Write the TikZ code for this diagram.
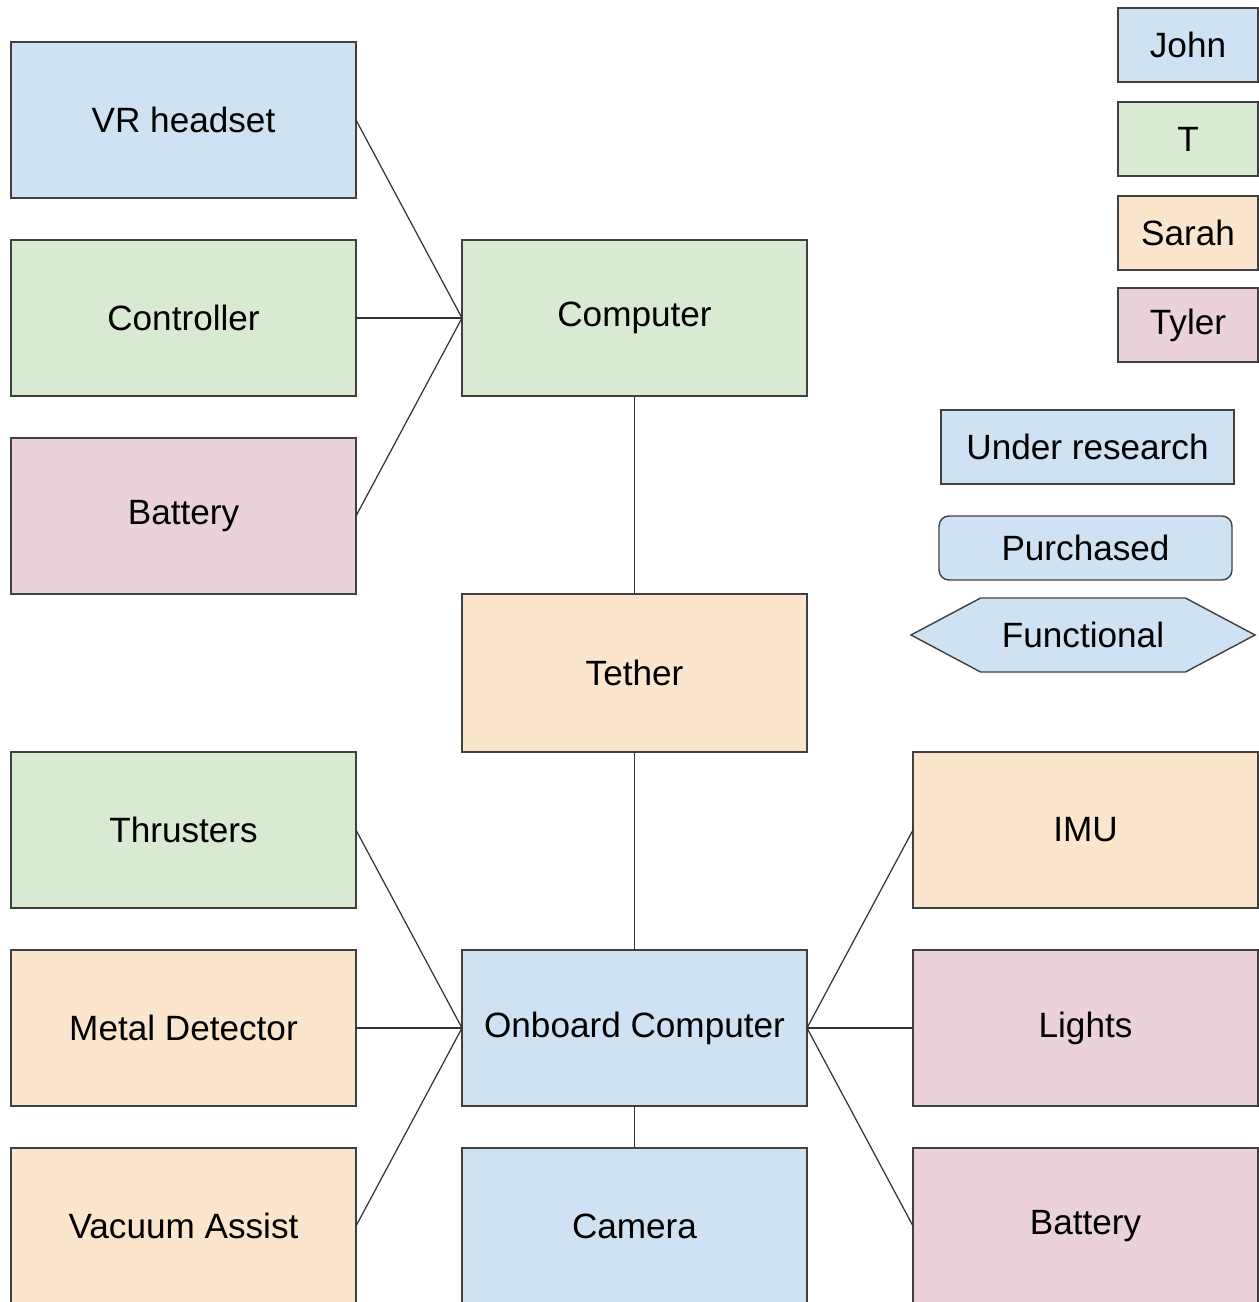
\documentclass[tikz,border=0pt]{standalone}
\usepackage{fontspec}
\setmainfont{Liberation Sans}
\usepackage{xcolor}
\usetikzlibrary{positioning, shapes.symbols}

\definecolor{johnblue}{HTML}{CFE2F3}
\definecolor{tgreen}{HTML}{D9EAD3}
\definecolor{sarahorange}{HTML}{FCE5CD}
\definecolor{tylerpink}{HTML}{EAD1DC}

\begin{document}
\begin{tikzpicture}[
        part/.style={rectangle, minimum width=6.9cm, minimum height=3.12cm, outer sep=0pt, text centered, draw=black!75, line width=0.8pt, font=\fontsize{20}{24}\selectfont},
        key/.style={rectangle, minimum width=2.8cm, minimum height=1.48cm, outer sep=0pt, text centered, draw=black!75, line width=0.8pt, font=\fontsize{20}{24}\selectfont},
        status/.style={minimum width=5.86cm, text centered, draw=black!75, fill=johnblue, line width=0.8pt, font=\fontsize{20}{24}\selectfont},
        link/.style={draw=black!80, line width=0.7pt}
    ]
        \useasboundingbox (0,0) rectangle (25.18,-26.04);

        % Surface side
        \node[part, fill=johnblue] (vr) at (3.67,-2.4) {VR headset};
        \node[part, fill=tgreen, below=0.84cm of vr] (ctrl) {Controller};
        \node[part, fill=tylerpink, below=0.84cm of ctrl] (bat) {Battery};
        \node[part, fill=tgreen, right=2.12cm of ctrl] (pc) {Computer};
        \node[part, fill=sarahorange, minimum height=3.16cm, below=3.96cm of pc] (tether) {Tether};

        % Vehicle side
        \node[part, fill=johnblue, below=3.96cm of tether] (onboard) {Onboard Computer};
        \node[part, fill=sarahorange, left=2.12cm of onboard] (metal) {Metal Detector};
        \node[part, fill=tgreen, above=0.84cm of metal] (thrust) {Thrusters};
        \node[part, fill=sarahorange, below=0.84cm of metal] (vac) {Vacuum Assist};
        \node[part, fill=johnblue, below=0.84cm of onboard] (cam) {Camera};
        \node[part, fill=tylerpink, right=2.12cm of onboard] (lights) {Lights};
        \node[part, fill=sarahorange, above=0.84cm of lights] (imu) {IMU};
        \node[part, fill=tylerpink, below=0.84cm of lights] (bat2) {Battery};

        % Legend
        \node[key, fill=johnblue] (john) at (23.76,-0.9) {John};
        \node[key, fill=tgreen, below=0.4cm of john] (t) {T};
        \node[key, fill=sarahorange, below=0.4cm of t] (sarah) {Sarah};
        \node[key, fill=tylerpink, below=0.36cm of sarah] (tyler) {Tyler};
        \node[status, rectangle, minimum height=1.48cm] (research) at (21.75,-8.94) {Under research};
        \node[status, rectangle, rounded corners=0.2cm, minimum height=1.28cm] (bought) at (21.71,-10.96) {Purchased};
        \node[status, signal, signal to=west and east, signal pointer angle=56, minimum width=6.88cm, minimum height=1.48cm, inner xsep=0pt] (works) at (21.66,-12.7) {Functional};

        % Connectors
        \draw[link] (vr.east) -- (pc.west);
        \draw[link] (ctrl.east) -- (pc.west);
        \draw[link] (bat.east) -- (pc.west);
        \draw[link] (pc) -- (tether);
        \draw[link] (tether) -- (onboard);
        \draw[link] (thrust.east) -- (onboard.west);
        \draw[link] (metal.east) -- (onboard.west);
        \draw[link] (vac.east) -- (onboard.west);
        \draw[link] (onboard) -- (cam);
        \draw[link] (onboard.east) -- (imu.west);
        \draw[link] (onboard.east) -- (lights.west);
        \draw[link] (onboard.east) -- (bat2.west);

    \end{tikzpicture}
\end{document}
